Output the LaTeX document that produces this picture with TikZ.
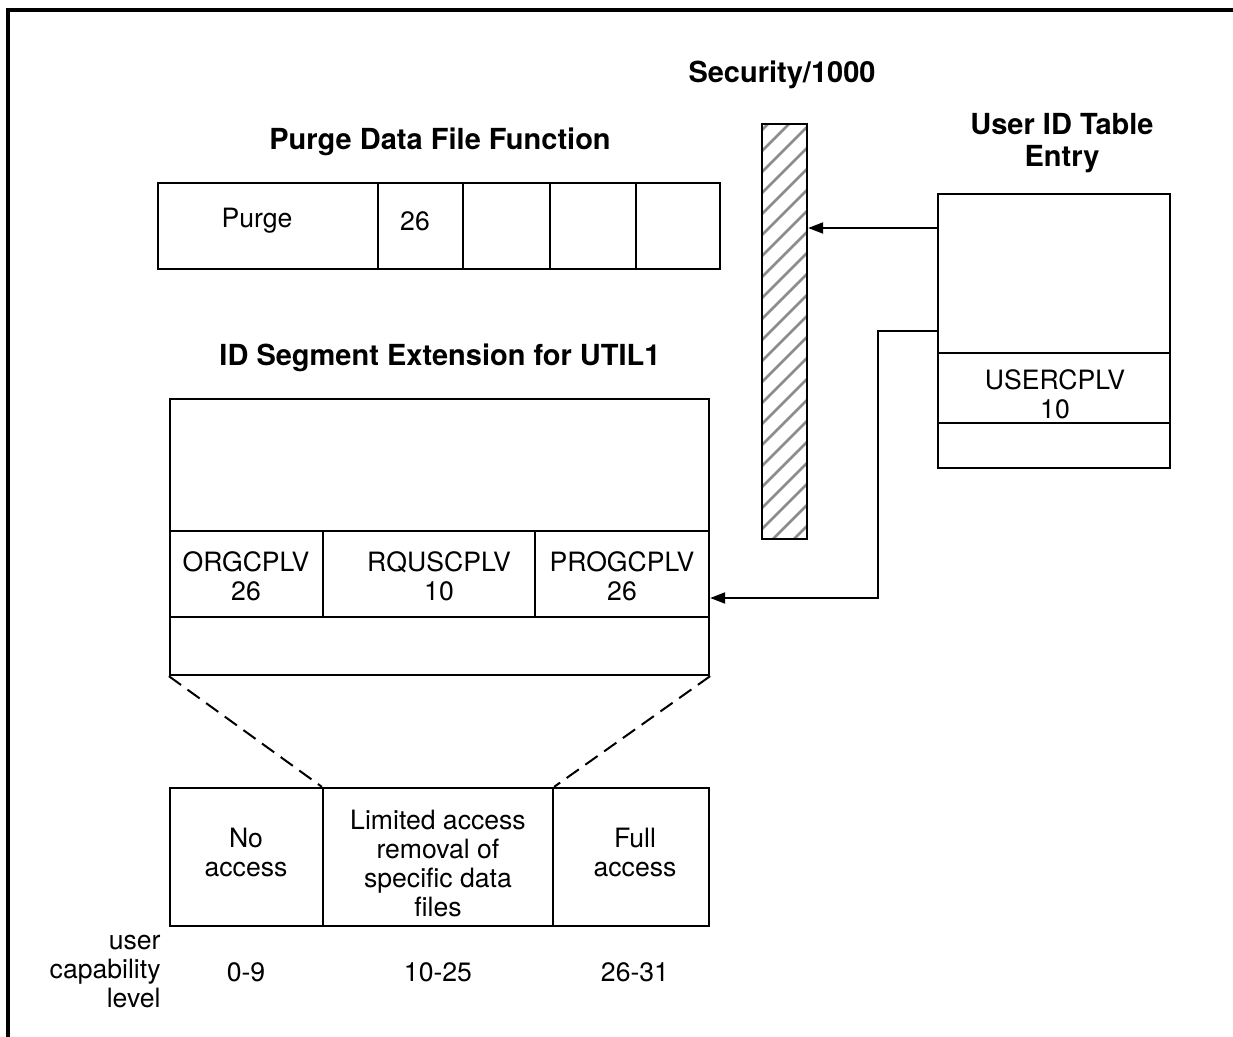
\documentclass[tikz,border=0pt]{standalone}
\usepackage{fontspec}
\setmainfont{TeX Gyre Heros}
\usetikzlibrary{arrows.meta}

% cellbox{name}{x1}{y1}{x2}{y2}: an empty rectangle given by its corners (px)
\newcommand\cellbox[5]{%
  \node[cellst, minimum width={(#4-#2)*0.5pt}, minimum height={(#5-#3)*0.5pt}]
    (#1) at ({(#2+#4)/2},{(#3+#5)/2}) {};}

\tikzset{
  cellst/.style={draw, line width=1.15pt, rectangle, inner sep=0pt},
  title/.style={font=\bfseries\fontsize{14.5pt}{16pt}\selectfont, align=center, inner sep=0pt},
  txt/.style={font=\fontsize{13.3pt}{14.5pt}\selectfont, align=center, inner sep=0pt},
  conn/.style={line width=1pt},
  arr/.style={line width=1pt, -{Triangle[length=7.5pt,width=5.5pt]}},
  zoomline/.style={line width=1pt, dash pattern=on 7.5pt off 4pt},
  hatchline/.style={line width=1.3pt, black!45},
}

\begin{document}
\begin{tikzpicture}[x=0.5pt, y=-0.5pt]
\useasboundingbox (0,0) rectangle (1233,1037);

% outer frame (top and left edges)
\draw[line width=1.6pt] (8,1037) -- (8,10) -- (1233,10);

% ---- Purge Data File Function ----
\node[title] (purgetitle) at (440,142) {Purge Data File Function};
\cellbox{pA}{158}{183}{378}{269}
\cellbox{pB}{378}{183}{463}{269}
\cellbox{pC}{463}{183}{550}{269}
\cellbox{pD}{550}{183}{636}{269}
\cellbox{pE}{636}{183}{720}{269}
\node[txt] (purgetxt) at (257,221) {Purge};
\node[txt] (purgenum) at (415,221) {26};

% ---- Security/1000 barrier ----
\node[title] (sectitle) at (782,75) {Security/1000};
\begin{scope}
  \clip (762,124) rectangle (807,539);
  \foreach \k in {0,...,22} {
    \draw[hatchline] (762,{130+21*\k}) -- (807,{85+21*\k});
  }
\end{scope}
\cellbox{sec}{762}{124}{807}{539}

% ---- User ID Table Entry ----
\node[title] (uidtitle) at (1062,143) {User ID Table\\Entry};
\cellbox{uid}{938}{194}{1170}{468}
\cellbox{uidmid}{938}{353}{1170}{423}
\node[txt] (usercplv) at (1055,394) {USERCPLV\\10};

% ---- ID Segment Extension for UTIL1 ----
\node[title] (idstitle) at (440,358) {ID Segment Extension for UTIL1};
\cellbox{ids}{170}{399}{709}{675}
\cellbox{idsA}{170}{531}{323}{617}
\cellbox{idsB}{323}{531}{535}{617}
\cellbox{idsC}{535}{531}{709}{617}
\node[txt] (orgcplv) at (246,576) {ORGCPLV\\26};
\node[txt] (rquscplv) at (439,576) {RQUSCPLV\\10};
\node[txt] (progcplv) at (622,576) {PROGCPLV\\26};

% ---- capability ranges ----
\cellbox{lvA}{170}{788}{323}{926}
\cellbox{lvB}{323}{788}{553}{926}
\cellbox{lvC}{553}{788}{709}{926}
\node[txt] (noacc) at (246,853) {No\\access};
\node[txt] (limacc) at (438,864) {Limited access\\removal of\\specific data\\files};
\node[txt] (fullacc) at (635,853) {Full\\access};

\node[txt, anchor=east, align=right] (ucl) at (161,972) {user\\capability\\level};
\node[txt] (rA) at (246,972) {0-9};
\node[txt] (rB) at (438,972) {10-25};
\node[txt] (rC) at (635,972) {26-31};

% zoom lines from the extension row to the ranges
\draw[zoomline] (ids.south west) -- (lvB.north west);
\draw[zoomline] (ids.south east) -- (lvB.north east);

% connectors
\coordinate (row1) at (0,228);
\coordinate (row2) at (0,331);
\coordinate (bend) at (878,0);
\coordinate (row3) at (0,598);
\draw[arr] (uid.west |- row1) -- (sec.east |- row1);
\draw[arr] (uid.west |- row2) -- (bend |- row2) -- (bend |- row3) -- (ids.east |- row3);
\end{tikzpicture}
\end{document}
